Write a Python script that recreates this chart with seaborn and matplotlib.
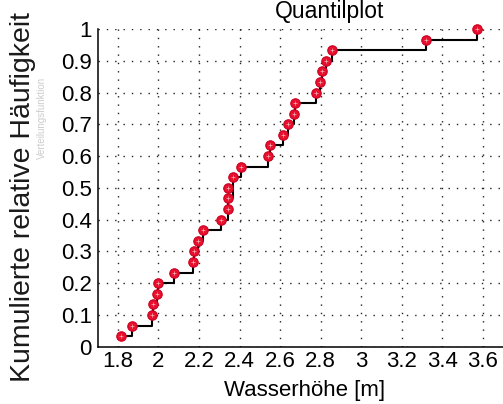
import numpy as np
import pandas as pd
import matplotlib
matplotlib.use("Agg")
import matplotlib.pyplot as plt
import seaborn as sns

# Data (sorted water heights, m)
wasserhoehe = [1.813, 1.871, 1.966, 1.971, 1.991, 1.998, 2.075, 2.169, 2.175, 2.194,
               2.221, 2.307, 2.345, 2.345, 2.345, 2.366, 2.409, 2.542, 2.551, 2.612,
               2.640, 2.671, 2.674, 2.778, 2.798, 2.806, 2.827, 2.857, 3.321, 3.571]
x_ticks = [1.8, 2.0, 2.2, 2.4, 2.6, 2.8, 3.0, 3.2, 3.4, 3.6]
x_ticklabels = ["1.8", "2", "2.2", "2.4", "2.6", "2.8", "3", "3.2", "3.4", "3.6"]
y_ticks = [0, 0.1, 0.2, 0.3, 0.4, 0.5, 0.6, 0.7, 0.8, 0.9, 1.0]
y_ticklabels = ["0", "0.1", "0.2", "0.3", "0.4", "0.5", "0.6", "0.7", "0.8", "0.9", "1"]

title = "Quantilplot"
xlabel = "Wasserhöhe [m]"
ylabel = "Kumulierte relative Häufigkeit"
ghost_label = "Verteilungsfunktion"

# empirical cumulative relative frequency
h = np.sort(np.array(wasserhoehe))
n = len(h)
df = pd.DataFrame({"h": h, "F": np.arange(1, n + 1) / n})

sns.set_theme(style="white")
plt.rcParams["font.family"] = ["Liberation Sans", "DejaVu Sans"]

W, H = 503, 404
fig = plt.figure(figsize=(W / 100, H / 100), dpi=100)
ax = fig.add_axes([97.7 / W, (H - 346.7) / H, (W - 97.7) / W, (346.7 - 29) / H])

sns.lineplot(data=df, x="h", y="F", ax=ax, drawstyle="steps-post",
             color="black", linewidth=1.5, zorder=3, clip_on=False)
ax.plot(df["h"], df["F"], linestyle="none", marker="o", markersize=6.8,
        markerfacecolor="#e8102c", markeredgecolor="#cc0022", markeredgewidth=0.8,
        zorder=4, clip_on=False)
ax.plot(df["h"], df["F"], linestyle="none", marker="+", markersize=3.0,
        color="#f0b0b6", markeredgewidth=0.5, zorder=5, clip_on=False)

ax.set_xlim(1.7, 3.7)
ax.set_ylim(0, 1.0)
ax.set_xticks(x_ticks)
ax.set_xticklabels(x_ticklabels)
ax.set_yticks(y_ticks)
ax.set_yticklabels(y_ticklabels)
ax.tick_params(axis="both", direction="in", length=3, width=1, color="black",
               labelsize=16, labelcolor="black")
ax.tick_params(axis="x", pad=3)
ax.tick_params(axis="y", pad=4.3)
ax.set_xlabel("")
ax.set_ylabel("")

ax.grid(True, color="#222222", linestyle=(0, (1, 5)), linewidth=1.0)
for s in ["top", "right"]:
    ax.spines[s].set_visible(False)
for s in ["left", "bottom"]:
    ax.spines[s].set_visible(True)
    ax.spines[s].set_color("black")
    ax.spines[s].set_linewidth(1.1)

fig.text(330 / W, (H - 18.3) / H, title, ha="center", va="baseline", fontsize=16.5, color="black")
fig.text(305 / W, (H - 395.7) / H, xlabel, ha="center", va="baseline", fontsize=16, color="black")
fig.text(23 / W, (H - 197) / H, ylabel, ha="center", va="center", rotation=90,
         fontsize=20.5, color="#1a1a1a")
fig.text(42 / W, (H - 118) / H, ghost_label, ha="center", va="center", rotation=90,
         fontsize=7, color="#cccccc")

fig.savefig("out.png", dpi=100)
